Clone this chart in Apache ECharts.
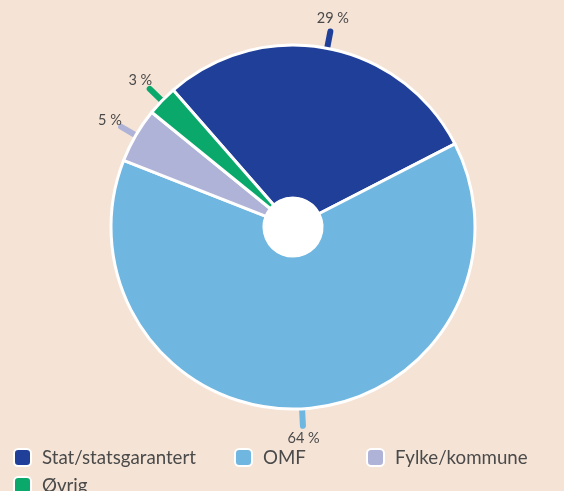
<!DOCTYPE html>
<html>
<head>
<meta charset="utf-8">
<script src="https://cdn.jsdelivr.net/npm/echarts@6/dist/echarts.min.js"></script>
<style>
  html, body { margin: 0; padding: 0; background: #f5e3d6; }
  #chart { width: 564px; height: 491px; }
</style>
</head>
<body>
<div id="chart"></div>
<script>
// andel per utstedertype, i prosent
const categories = ['Stat/statsgarantert', 'OMF', 'Fylke/kommune', 'Øvrig']
const values = [28.9, 63.5, 4.9, 2.7]
const colors = ['#1f3f99', '#6fb6e0', '#b0b3d8', '#0aa86b']

const pieCenter = [293, 227]

const myChart = echarts.init(document.getElementById('chart'))

function legendFor(name, left, top) {
  return {
    data: [name],
    left: left,
    top: top,
    padding: 0,
    icon: 'roundRect',
    itemWidth: 17,
    itemHeight: 17,
    selectedMode: false,
    textStyle: {
      fontFamily: 'Lato',
      fontSize: 18.7,
      color: '#4a4a4a',
      padding: [0, 0, 0, 6]
    }
  }
}

const option = {
  backgroundColor: '#f5e3d6',
  color: colors,
  legend: [
    legendFor(categories[0], 13, 448),
    legendFor(categories[1], 234, 448),
    legendFor(categories[2], 366, 448),
    legendFor(categories[3], 13, 476)
  ],
  series: [
    {
      name: 'Andel',
      type: 'pie',
      center: pieCenter,
      radius: [29, 182],
      startAngle: 131.2,
      clockwise: true,
      silent: true,
      itemStyle: {
        borderColor: '#ffffff',
        borderWidth: 3
      },
      label: {
        show: true,
        position: 'outside',
        fontFamily: 'Lato',
        fontSize: 14.5,
        color: '#4a4a4a',
        formatter: function (p) {
          return Math.round(p.value) + ' %'
        }
      },
      labelLine: {
        show: true,
        length: 16,
        length2: 0,
        lineStyle: { width: 6, cap: 'round' }
      },
      // short radial tick, text just beyond it
      labelLayout: function (params) {
        const pts = params.labelLinePoints
        if (!pts) return {}
        const a = pts[0]
        const dx = a[0] - pieCenter[0], dy = a[1] - pieCenter[1]
        const len = Math.sqrt(dx * dx + dy * dy) || 1
        const ux = dx / len, uy = dy / len
        const p0 = [a[0] - ux * 3, a[1] - uy * 3]
        const p1 = [a[0] + ux * 17, a[1] + uy * 17]
        return {
          x: a[0] + ux * 30,
          y: a[1] + uy * 30,
          align: 'center',
          verticalAlign: 'middle',
          labelLinePoints: [p0, p1, p1.slice()]
        }
      },
      data: categories.map(function (c, i) {
        return {
          name: c,
          value: values[i],
          labelLine: { lineStyle: { color: colors[i] } }
        }
      })
    },
    {
      name: 'hull',
      type: 'pie',
      center: pieCenter,
      radius: [0, 30],
      silent: true,
      label: { show: false },
      labelLine: { show: false },
      itemStyle: { color: '#ffffff' },
      data: [{ name: 'hull', value: 1 }]
    }
  ]
}

myChart.setOption(option)
</script>
</body>
</html>
